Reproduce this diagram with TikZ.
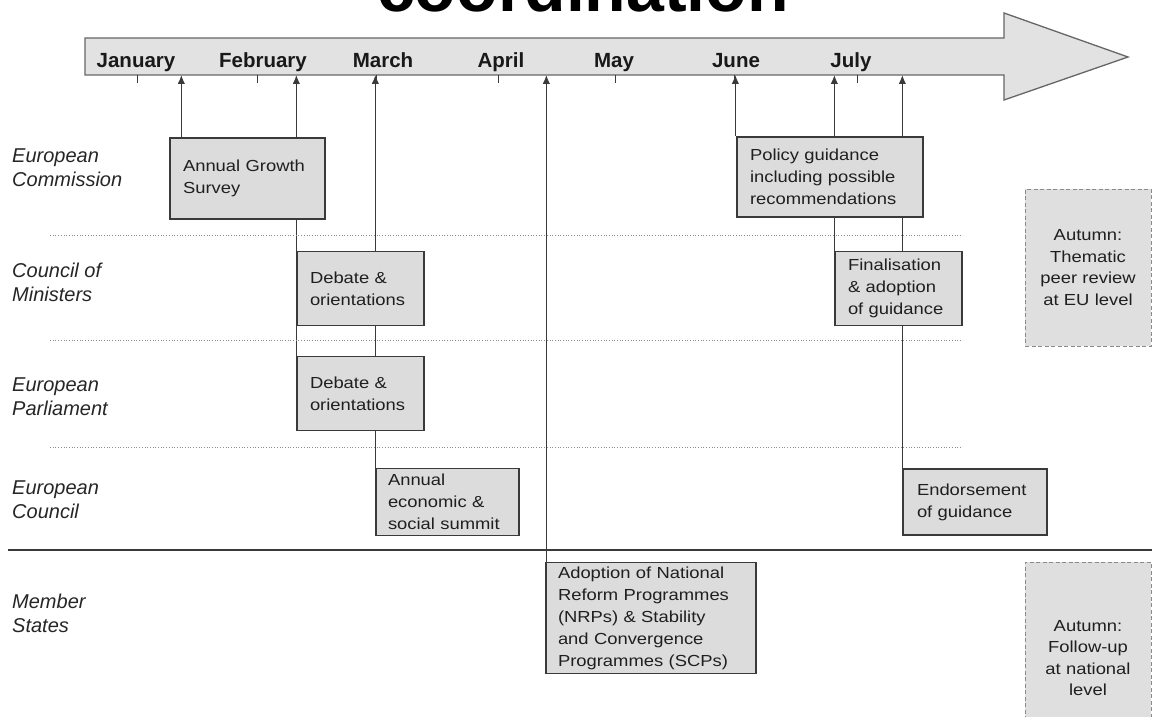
\documentclass[tikz,border=0pt]{standalone}
\usepackage{fontspec}
\setmainfont{Liberation Sans}
\newfontfamily\boxfont{Liberation Sans}[FakeStretch=1.15]
\usetikzlibrary{arrows.meta}
\definecolor{boxfill}{HTML}{DCDCDC}
\definecolor{arrowfill}{HTML}{E2E2E2}
\definecolor{edge}{HTML}{3A3A3A}
\definecolor{dashedge}{HTML}{8A8A8A}
\pgfdeclarelayer{bg}
\pgfsetlayers{bg,main}
\tikzset{
  box/.style={draw=edge, line width=1.3pt, fill=boxfill, inner xsep=13pt, inner ysep=0pt,
    align=left, font=\boxfont\fontsize{16}{22}\selectfont, text=black!88},
  autumn/.style={draw=dashedge, dash pattern=on 4pt off 2.5pt, line width=0.9pt, fill=boxfill!90!white,
    inner sep=0pt, align=center, font=\boxfont\fontsize{16}{21.5}\selectfont, text=black!88},
  rowlab/.style={anchor=base west, align=left, inner sep=0pt,
    font=\fontsize{20}{24}\selectfont\itshape, text=black!85},
  month/.style={anchor=base, inner sep=0pt, font=\fontsize{20.5}{22}\selectfont\bfseries, text=black!90},
  conn/.style={draw=edge, line width=1.3pt, -{Latex[length=9pt,width=7.5pt]}},
  tick/.style={draw=edge, line width=1pt},
  sep/.style={draw=black!45, line width=0.7pt, dotted},
  divider/.style={draw=edge, line width=1.3pt}
}
\begin{document}
\begin{tikzpicture}[x=1pt,y=-1pt]
\useasboundingbox (0,0) rectangle (1152,717);
\clip (0,0) rectangle (1152,717);
% title (cut at top, as in the reference)
\node[anchor=base, inner sep=0pt, font=\fontsize{68}{68}\selectfont\bfseries] (title) at (583,12) {coordination};
% timeline arrow
\draw[draw=black!60, line width=1.3pt, fill=arrowfill, line join=miter]
  (85,38) -- (1004,38) -- (1004,13) -- (1128,57) -- (1004,100) -- (1004,75) -- (85,75) -- cycle;
\coordinate (tlb) at (0,75);
% ticks
\foreach \x in {137,257,376,498,615,734,857} \draw[tick] (\x,75) -- (\x,83);
% months
\node[month] (jan) at (136,67) {January};
\node[month] (feb) at (263,67) {February};
\node[month] (mar) at (383,67) {March};
\node[month] (apr) at (501,67) {April};
\node[month] (may) at (614,67) {May};
\node[month] (jun) at (736,67) {June};
\node[month] (jul) at (851,67) {July};
% row labels (anchor = baseline of last line)
\node[rowlab] (ec) at (12,186) {European\\Commission};
\node[rowlab] (com) at (12,301) {Council of\\Ministers};
\node[rowlab] (ep) at (12,415) {European\\Parliament};
\node[rowlab] (euco) at (12,518) {European\\Council};
\node[rowlab] (ms) at (12,632) {Member\\States};
% separators
\draw[sep] (50,235) -- (962,235);
\draw[sep] (50,340) -- (962,340);
\draw[sep] (50,447) -- (962,447);
\draw[divider] (8,550) -- (1152,550);
% boxes
\node[box, minimum width=155pt, minimum height=81pt, text width=129pt] (ags) at (247.5,178.5) {Annual Growth\\Survey};
\node[box, minimum width=186pt, minimum height=80pt, text width=160pt] (pol) at (830,177) {Policy guidance\\including possible\\recommendations};
\node[box, minimum width=127pt, minimum height=74pt, text width=101pt] (deb1) at (360.5,288.5) {Debate \&\\orientations};
\node[box, minimum width=127pt, minimum height=74pt, text width=101pt] (deb2) at (360.5,393.5) {Debate \&\\orientations};
\node[box, minimum width=143pt, minimum height=67pt, text width=119pt, inner xsep=12pt] (aes) at (447.5,502) {Annual\\economic \&\\social summit};
\node[box, minimum width=127pt, minimum height=74pt, text width=101pt] (fin) at (898.5,288.5) {Finalisation\\\& adoption\\of guidance};
\node[box, minimum width=144pt, minimum height=66pt, text width=116pt, inner xsep=14pt] (end) at (975,502) {Endorsement\\of guidance};
\node[box, minimum width=210pt, minimum height=111pt, text width=186pt, inner xsep=12pt] (nrp) at (651,618) {Adoption of National\\Reform Programmes\\(NRPs) \& Stability\\and Convergence\\Programmes (SCPs)};
\node[autumn, minimum width=126pt, minimum height=157pt, text width=120pt] (aut1) at (1088,267.5) {Autumn:\\Thematic\\peer review\\at EU level};
\node[autumn, minimum width=126pt, minimum height=192pt, text width=120pt] (aut2) at (1088,658) {Autumn:\\Follow-up\\at national\\level};
% connectors (behind boxes)
\begin{pgfonlayer}{bg}
\draw[conn] ([xshift=12pt]ags.north west) -- ([xshift=12pt]ags.north west |- tlb);
\draw[conn] (deb2.north west) -- (deb2.north west |- tlb);
\draw[conn] (aes.north west) -- (aes.north west |- tlb);
\draw[conn] ([xshift=1pt]nrp.north west) -- ([xshift=1pt]nrp.north west |- tlb);
\draw[conn] ([xshift=-1pt]pol.north west) -- ([xshift=-1pt]pol.north west |- tlb);
\draw[conn] (fin.north west) -- (fin.north west |- tlb);
\draw[conn] (end.north west) -- (end.north west |- tlb);
\end{pgfonlayer}
\end{tikzpicture}
\end{document}
